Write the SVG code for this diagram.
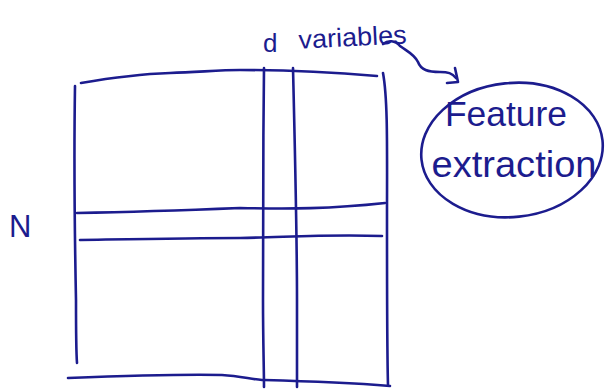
<svg xmlns="http://www.w3.org/2000/svg" width="605" height="390" viewBox="0 0 605 390">
<style>
.ink{fill:none;stroke:#1c1c8e;stroke-width:2.6;stroke-linecap:round;stroke-linejoin:round}
.txt{font-family:"Liberation Sans",Arial,sans-serif;fill:#1c1c8e}
</style>
<rect width="605" height="390" fill="#ffffff"/>
<g id="matrix">
<path class="ink" d="M81,83 C110,78 140,74 170,73 C200,72 220,70 240,70 C290,70 340,73 377,76"/>
<path class="ink" d="M75,86 C74,150 75,250 76,300 C76,330 76,350 77,363"/>
<path class="ink" d="M383,73 C388,100 387,150 387,220 C387,300 387,350 388,385"/>
<path class="ink" d="M68,378 C120,376 180,374 222,375 C240,376 250,379 262,380 C300,381 340,382 390,386"/>
<path class="ink" d="M264,68 C263,150 263,250 263,300 C263,340 264,370 264,387"/>
<path class="ink" d="M293,68 C295,150 297,250 297,300 C297,340 297,370 297,387"/>
<path class="ink" d="M77,213 C130,212 190,210 240,208 C290,209 330,209 385,203"/>
<path class="ink" d="M80,240 C140,239 190,238 240,238 C290,237 330,234 382,236"/>
</g>
<g id="label-d">
<text class="txt" x="263" y="52" font-size="26">d</text>
<text class="txt" x="299" y="46" font-size="26" textLength="108" lengthAdjust="spacingAndGlyphs" transform="rotate(-3 353 46)">variables</text>
</g>
<g id="label-N">
<text class="txt" x="9" y="237" font-size="31">N</text>
</g>
<g id="feature-extraction">
<ellipse class="ink" cx="512" cy="150" rx="91" ry="67" transform="rotate(-6 512 150)"/>
<text class="txt" x="506" y="126" font-size="35" text-anchor="middle" textLength="122" lengthAdjust="spacingAndGlyphs">Feature</text>
<text class="txt" x="514" y="177" font-size="36" text-anchor="middle" textLength="165" lengthAdjust="spacingAndGlyphs">extraction</text>
</g>
<g id="connectors">
<path class="ink" d="M383,44 C388,40 395,40 400,46 C408,52 414,54 418,62 C421,70 428,72 440,72 C448,72 452,73 456,78"/>
<path class="ink" d="M455,68 L458,82 L447,83"/>
</g>
</svg>
